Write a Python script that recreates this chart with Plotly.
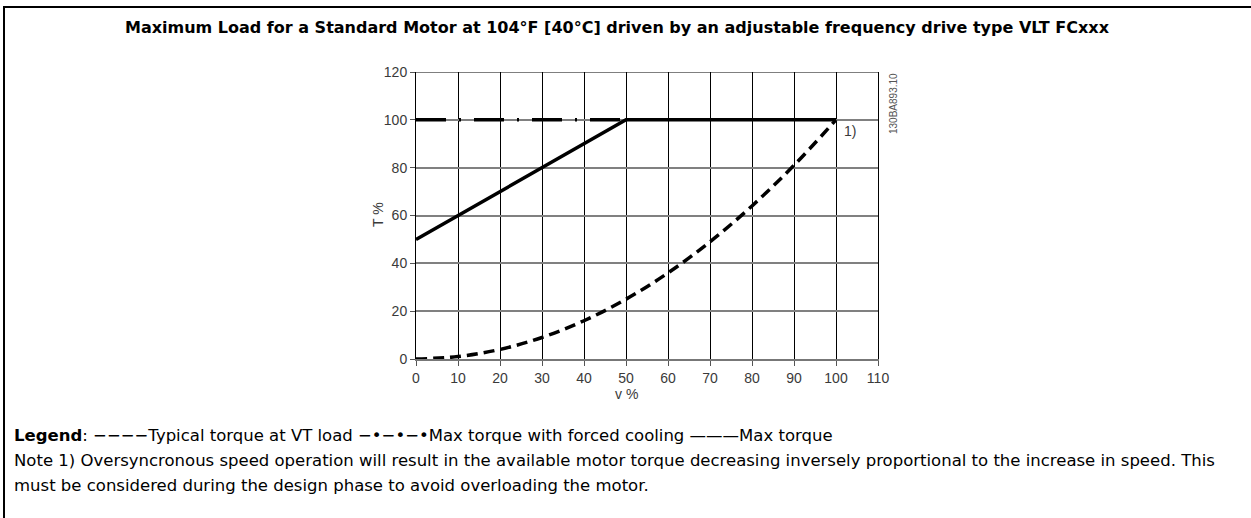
import plotly.graph_objects as go

# Speed (v %) and torque (T %) values
speed_max = [0, 50, 100]
torque_max = [50, 100, 100]

speed_cooling = [0, 50]
torque_cooling = [100, 100]

speed_vt = [0, 10, 20, 30, 40, 50, 60, 70, 80, 90, 100]
torque_vt = [0, 1, 4, 9, 16, 25, 36, 49, 64, 81, 100]

x_ticks = [0, 10, 20, 30, 40, 50, 60, 70, 80, 90, 100, 110]
y_ticks = [0, 20, 40, 60, 80, 100, 120]

W, H = 1251, 518
L, R, T, B = 416, 878, 72, 359  # plot area in pixels


def px(xp):
    return (xp - L) / (R - L)


def py(yp):
    return (B - yp) / (B - T)


fig = go.Figure()

fig.add_trace(go.Scatter(
    x=speed_cooling, y=torque_cooling, mode="lines",
    line=dict(color="black", width=3.5, dash="30px,13px,2px,13px"),
    showlegend=False, hoverinfo="skip"))

fig.add_trace(go.Scatter(
    x=speed_max, y=torque_max, mode="lines",
    line=dict(color="black", width=3.5),
    showlegend=False, hoverinfo="skip"))

fig.add_trace(go.Scatter(
    x=speed_vt, y=torque_vt, mode="lines",
    line=dict(color="black", width=3.5, dash="11px,6px", shape="spline"),
    showlegend=False, hoverinfo="skip"))

tick_font = dict(family="Liberation Sans", size=14, color="#3a3a3a")
text_font = dict(family="DejaVu Sans", size=16.5, color="black")

fig.update_xaxes(
    range=[0, 110], tickvals=x_ticks, showgrid=True, gridcolor="black", gridwidth=1,
    showline=True, linecolor="#777", linewidth=2, mirror=False,
    ticks="outside", ticklen=5, tickcolor="#555", tickfont=tick_font,
    zeroline=False, fixedrange=True)
fig.update_yaxes(
    range=[0, 120], tickvals=y_ticks, showgrid=True, gridcolor="#808080", gridwidth=1.5,
    showline=True, linecolor="black", linewidth=1, mirror=True,
    ticks="outside", ticklen=5, tickcolor="#555", tickfont=tick_font,
    zeroline=False, fixedrange=True)

shapes = [
    # frame lines of the figure
    dict(type="line", xref="paper", yref="paper", x0=px(3), x1=px(1251), y0=py(7), y1=py(7),
         line=dict(color="black", width=2)),
    dict(type="line", xref="paper", yref="paper", x0=px(4), x1=px(4), y0=py(7), y1=py(518),
         line=dict(color="black", width=2)),
    # top edge of the plot
    dict(type="line", xref="x", yref="y", x0=0, x1=110, y0=120, y1=120,
         line=dict(color="black", width=1)),
]

annotations = [
    dict(text="<b>Maximum Load for a Standard Motor at 104°F [40°C] driven by an adjustable frequency drive type VLT FCxxx</b>",
         xref="paper", yref="paper", x=px(617), y=py(28), showarrow=False,
         xanchor="center", yanchor="middle",
         font=dict(family="DejaVu Sans", size=16, color="black")),
    dict(text="T %", xref="paper", yref="paper", x=px(378), y=py(215), textangle=-90,
         showarrow=False, xanchor="center", yanchor="middle", font=tick_font),
    dict(text="v %", xref="paper", yref="paper", x=px(626), y=py(394),
         showarrow=False, xanchor="center", yanchor="middle", font=tick_font),
    dict(text="1)", xref="x", yref="y", x=101.5, y=95.5, showarrow=False,
         xanchor="left", yanchor="middle", font=tick_font),
    dict(text="130BA893.10", xref="paper", yref="paper", x=px(893), y=py(104), textangle=-90,
         showarrow=False, xanchor="center", yanchor="middle",
         font=dict(family="Liberation Sans", size=10, color="#555")),
    dict(text="<b>Legend</b>: −−−−Typical torque at VT load −•−•−•Max torque with forced cooling ———Max torque",
         xref="paper", yref="paper", x=px(12), y=py(435), showarrow=False,
         xanchor="left", yanchor="middle", font=text_font),
    dict(text="Note 1) Oversyncronous speed operation will result in the available motor torque decreasing inversely proportional to the increase in speed. This",
         xref="paper", yref="paper", x=px(12), y=py(460), showarrow=False,
         xanchor="left", yanchor="middle", font=text_font),
    dict(text="must be considered during the design phase to avoid overloading the motor.",
         xref="paper", yref="paper", x=px(12), y=py(485), showarrow=False,
         xanchor="left", yanchor="middle", font=text_font),
]

fig.update_layout(
    width=W, height=H,
    margin=dict(l=L, r=W - R, t=T, b=H - B),
    paper_bgcolor="white", plot_bgcolor="white",
    shapes=shapes, annotations=annotations, showlegend=False)

fig.write_html("out.html", config={"displayModeBar": False})
